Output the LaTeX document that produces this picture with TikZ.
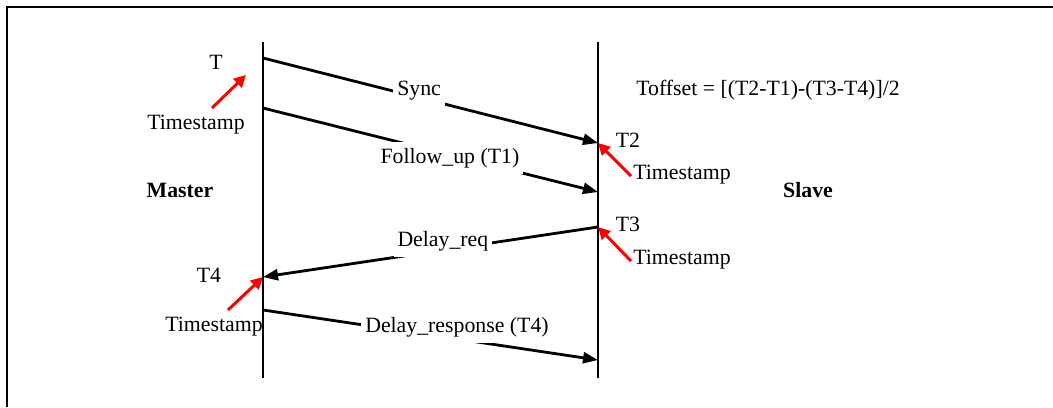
\documentclass[tikz,border=0pt]{standalone}
\usepackage{fontspec}
\setmainfont{Liberation Serif}
\usetikzlibrary{arrows.meta, positioning}

\begin{document}
\begin{tikzpicture}[x=0.5pt, y=-0.5pt, font=\fontsize{10.9}{13}\selectfont,
    lifeline/.style={line width=0.7pt},
    msg/.style={line width=1.4pt, -{Triangle[length=7.5pt, width=5.5pt]}},
    stamp/.style={red, line width=1.5pt, -{Triangle[length=6pt, width=6pt]}},
    msglabel/.style={fill=white, inner xsep=2pt, inner ysep=3pt}]
    \useasboundingbox (0,0) rectangle (1053,407);
    \draw[line width=1.4pt] (7,407) -- (7,7) -- (1053,7);

    % lifelines
    \coordinate (mtop) at (263,42);
    \coordinate (mbot) at (263,378);
    \coordinate (stop) at (598,42);
    \coordinate (sbot) at (598,378);
    \draw[lifeline] (mtop) -- (mbot);
    \draw[lifeline] (stop) -- (sbot);
    \node[font=\fontsize{10.9}{13}\selectfont\bfseries] (master) at (180,190) {Master};
    \node[font=\fontsize{10.9}{13}\selectfont\bfseries] (slave) at (808,190) {Slave};
    \node (toffset) at (768,90) {Toffset = [(T2-T1)-(T3-T4)]/2};

    % message ends
    \coordinate (m1) at (263,58);
    \coordinate (s1) at (598,143);
    \coordinate (m2) at (263,108);
    \coordinate (s2) at (598,192);
    \coordinate (s3) at (598,227);
    \coordinate (m3) at (263,277);
    \coordinate (m4) at (263,310);
    \coordinate (s4) at (598,360);

    \draw[msg] (m1) -- node[msglabel, pos=0.466, yshift=3.5pt] (sync) {Sync} (s1);
    \draw[msg] (m2) -- node[msglabel, pos=0.558, yshift=-1.5pt] (follow) {Follow\_up (T1)} (s2);
    \draw[msg] (s3) -- node[msglabel, pos=0.463, yshift=4.3pt] (dreq) {Delay\_req} (m3);
    \draw[msg] (m4) -- node[msglabel, pos=0.579, yshift=6pt] (dresp) {Delay\_response (T4)} (s4);

    % timestamps
    \node (t1) at (216,62) {T};
    \node (t2) at (628,140) {T2};
    \node (t3) at (628,224) {T3};
    \node (t4) at (209,275) {T4};
    \node (ts1) at (196,125) {Timestamp};
    \node (ts2) at (682,175) {Timestamp};
    \node (ts3) at (682,260) {Timestamp};
    \node (ts4) at (214,327) {Timestamp};
    \coordinate (a1) at (212,108);
    \coordinate (h1) at (246,75);
    \coordinate (a2) at (631,176);
    \coordinate (a3) at (631,261);
    \coordinate (a4) at (228,310);
    \draw[stamp] (a1) -- (h1);
    \draw[stamp] (a2) -- (s1);
    \draw[stamp] (a3) -- (s3);
    \draw[stamp] (a4) -- (m3);
\end{tikzpicture}
\end{document}
